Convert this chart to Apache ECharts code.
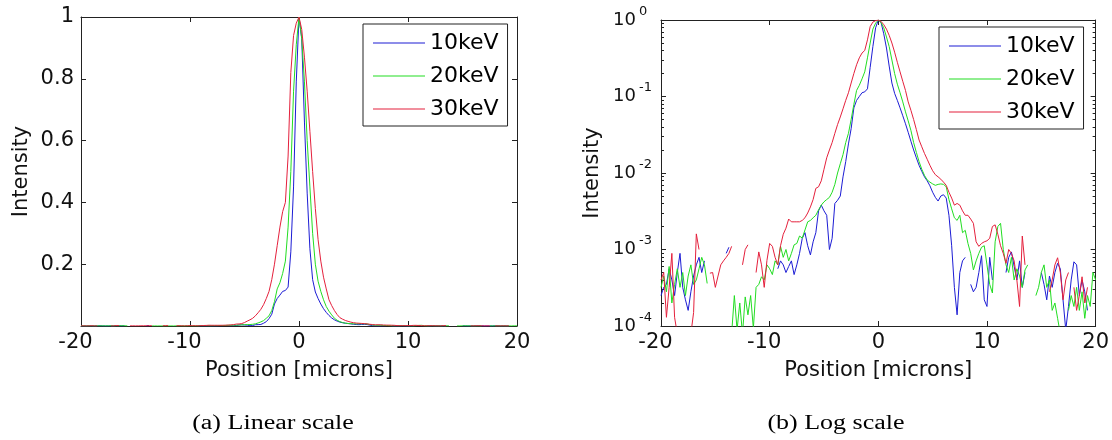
<!DOCTYPE html>
<html>
<head>
<meta charset="utf-8">
<script src="https://cdn.jsdelivr.net/npm/echarts@6/dist/echarts.min.js"></script>
<style>
  html, body { margin: 0; padding: 0; background: #fff; }
  #chart { width: 1112px; height: 440px; }
</style>
</head>
<body>
<div id="chart"></div>
<script>
// Sample positions along the beam profile (microns)
const positions = [
  -20, -19.75, -19.5, -19.25, -19, -18.75, -18.5, -18.25, -18, -17.75, -17.5, -17.25, -17, -16.75, -16.5, -16.25, -16, -15.75, -15.5, -15.25,
  -15, -14.75, -14.5, -14.25, -14, -13.75, -13.5, -13.25, -13, -12.75, -12.5, -12.25, -12, -11.75, -11.5, -11.25, -11, -10.75, -10.5, -10.25,
  -10, -9.75, -9.5, -9.25, -9, -8.75, -8.5, -8.25, -8, -7.75, -7.5, -7.25, -7, -6.75, -6.5, -6.25, -6, -5.75, -5.5, -5.25,
  -5, -4.75, -4.5, -4.25, -4, -3.75, -3.5, -3.25, -3, -2.75, -2.5, -2.25, -2, -1.75, -1.5, -1.25, -1, -0.75, -0.5, -0.25,
  0, 0.25, 0.5, 0.75, 1, 1.25, 1.5, 1.75, 2, 2.25, 2.5, 2.75, 3, 3.25, 3.5, 3.75, 4, 4.25, 4.5, 4.75,
  5, 5.25, 5.5, 5.75, 6, 6.25, 6.5, 6.75, 7, 7.25, 7.5, 7.75, 8, 8.25, 8.5, 8.75, 9, 9.25, 9.5, 9.75,
  10, 10.25, 10.5, 10.75, 11, 11.25, 11.5, 11.75, 12, 12.25, 12.5, 12.75, 13, 13.25, 13.5, 13.75, 14, 14.25, 14.5, 14.75,
  15, 15.25, 15.5, 15.75, 16, 16.25, 16.5, 16.75, 17, 17.25, 17.5, 17.75, 18, 18.25, 18.5, 18.75, 19, 19.25, 19.5, 19.75,
  20
];

// Normalised intensity, 10 keV (null = no positive reading)
const intensity10keV = [
  2.5e-4, 3.2e-4, 3.5e-4, 5.6e-4, 4.0e-4, 2.5e-4, 5.0e-4, 8.9e-4, 3.2e-4, 2.2e-4, 1.6e-4, 2.8e-4, 4.5e-4, 6.3e-4, 7.9e-4, 5.0e-4, 7.1e-4, null, null, null,
  null, null, null, null, 8.9e-4, 1.07e-3, null, null, null, null, null, null, null, null, null, null, null, null, null, null,
  null, null, null, 5.6e-4, 7.1e-4, 6.3e-4, 5.0e-4, 6.0e-4, 7.1e-4, 4.7e-4, 6.3e-4, 8.9e-4, 1.4e-3, 1.66e-3, 1.12e-3, 8.5e-4, 1.26e-3, 1.66e-3, 3.2e-3, 3.8e-3,
  3.2e-3, 2.8e-3, 1.0e-3, 1.4e-3, 4.0e-3, 4.4e-3, 5.0e-3, 8.9e-3, 1.41e-2, 2.4e-2, 3.8e-2, 7.1e-2, 8.9e-2, 0.100, 0.112, 0.115, 0.126, 0.24, 0.45, 0.79,
  1.0, 0.93, 0.66, 0.43, 0.25, 0.15, 0.11, 0.089, 0.071, 0.056, 0.044, 0.034, 0.026, 0.020, 0.0158, 0.0126, 0.0105, 8.9e-3, 7.9e-3, 6.8e-3,
  5.6e-3, 4.8e-3, 4.3e-3, 5.0e-3, 5.2e-3, 4.7e-3, 2.8e-3, 1.12e-3, 3.2e-4, 1.4e-4, 5.0e-4, 7.1e-4, 7.9e-4, null, 3.5e-4, 2.8e-4, 3.2e-4, 5.0e-4, 8.3e-4, 2.2e-4,
  1.8e-4, 7.9e-4, 4.0e-4, null, null, null, null, 5.0e-4, 7.9e-4, 9.3e-4, 6.0e-4, 4.0e-4, 7.1e-4, 3.2e-4, 5.0e-4, null, null, null, null, null,
  5.0e-4, 3.5e-4, 2.2e-4, 4.5e-4, 3.2e-4, 5.0e-4, 6.6e-4, 5.6e-4, 2.2e-4, 8.9e-5, 1.8e-4, 4.0e-4, 6.9e-4, 6.3e-4, 2.5e-4, 4.0e-4, 2.8e-4, 1.6e-4, null, null,
  null
];

// Normalised intensity, 20 keV
const intensity20keV = [
  3.2e-4, 4.5e-4, 2.8e-4, 6.0e-4, 2.0e-4, 3.5e-4, 5.6e-4, 3.2e-4, 5.0e-4, 2.5e-4, 4.5e-4, 6.3e-4, 3.5e-4, 4.0e-4, 5.6e-4, 7.9e-4, 6.3e-4, 3.6e-4, null, null,
  null, null, null, null, null, null, 7.9e-5, 2.5e-4, 8.9e-5, 2.0e-4, 7.9e-5, 2.4e-4, 1.4e-4, 2.5e-4, 9.3e-5, 3.2e-4, 3.5e-4, 4.4e-4, 4.0e-4, 6.3e-4,
  5.6e-4, 4.7e-4, 7.1e-4, 6.3e-4, 1.1e-3, 7.9e-4, 1.0e-3, 7.1e-4, 8.9e-4, 1.15e-3, 1.2e-3, 1.5e-3, 1.41e-3, 1.8e-3, 2.3e-3, 2.4e-3, 2.6e-3, 2.8e-3, 3.3e-3, 3.8e-3,
  4.2e-3, 4.5e-3, 4.8e-3, 5.6e-3, 7.1e-3, 1.0e-2, 1.32e-2, 1.74e-2, 2.5e-2, 3.3e-2, 5.0e-2, 7.9e-2, 0.12, 0.14, 0.17, 0.21, 0.32, 0.50, 0.76, 0.91,
  1.0, 0.93, 0.79, 0.60, 0.45, 0.30, 0.20, 0.145, 0.112, 0.085, 0.063, 0.048, 0.036, 0.025, 0.0186, 0.0141, 0.0112, 9.3e-3, 8.1e-3, 7.6e-3,
  7.2e-3, 6.9e-3, 7.1e-3, 7.2e-3, 7.1e-3, 6.6e-3, 4.5e-3, 3.4e-3, 2.6e-3, 2.4e-3, 2.8e-3, 1.66e-3, 1.78e-3, 1.2e-3, 8.9e-4, 5.4e-4, 7.1e-4, 8.9e-4, 1.07e-3, 1.12e-3,
  6.3e-4, 3.5e-4, 2.7e-4, 1.26e-3, 2.0e-3, 2.2e-3, 1.0e-3, 6.3e-4, 5.0e-4, 7.9e-4, 4.0e-4, 5.6e-4, 4.5e-4, 3.2e-4, 5.4e-4, 6.3e-4, null, null, 2.5e-4, 3.2e-4,
  5.0e-4, 6.3e-4, 3.2e-4, 4.0e-4, 1.6e-4, 2.0e-4, 1.26e-4, 7.9e-5, null, null, 1.6e-4, 2.5e-4, 1.8e-4, 3.2e-4, 1.6e-4, 2.8e-4, 1.26e-4, 2.5e-4, 1.8e-4, 5.0e-4,
  4.0e-4
];

// Normalised intensity, 30 keV
const intensity30keV = [
  4.0e-4, 5.0e-4, 1.3e-4, 3.2e-4, 8.9e-4, 1.3e-4, 7.9e-5, null, null, null, null, 7.9e-5, 1.5e-4, 1.6e-3, 1.0e-3, null, null, null, 4.9e-4, 5.0e-4,
  3.2e-4, 4.5e-4, 6.3e-4, 7.1e-4, 7.9e-4, 8.9e-4, 1.1e-3, null, null, null, 6.3e-4, 1.0e-3, 1.15e-3, null, null, 5.0e-4, 9.3e-4, 6.3e-4, 3.2e-4, 7.2e-4,
  1.2e-3, 1.1e-3, 7.9e-4, 6.3e-4, 1.12e-3, 1.58e-3, 1.9e-3, 2.5e-3, 2.3e-3, 2.3e-3, 2.3e-3, 2.3e-3, 2.4e-3, 2.6e-3, 3.0e-3, 3.6e-3, 4.5e-3, 6.3e-3, 6.6e-3, 7.9e-3,
  1.12e-2, 1.58e-2, 2.0e-2, 2.5e-2, 3.3e-2, 4.3e-2, 5.4e-2, 6.9e-2, 8.9e-2, 0.112, 0.15, 0.20, 0.26, 0.32, 0.37, 0.40, 0.55, 0.82, 0.94, 0.98,
  1.0, 0.96, 0.87, 0.76, 0.63, 0.50, 0.38, 0.28, 0.21, 0.158, 0.12, 0.085, 0.066, 0.050, 0.037, 0.027, 0.022, 0.018, 0.0151, 0.0126,
  1.07e-2, 9.5e-3, 8.9e-3, 8.3e-3, 7.6e-3, 6.9e-3, 5.6e-3, 4.7e-3, 3.8e-3, 4.0e-3, 3.8e-3, 3.2e-3, 2.8e-3, 2.8e-3, 2.5e-3, 2.2e-3, 1.26e-3, 1.1e-3, 1.2e-3, 1.26e-3,
  1.3e-3, 1.4e-3, 2.0e-3, 2.1e-3, 1.58e-3, 1.12e-3, 8.9e-4, 6.6e-4, 1.0e-3, 8.9e-4, 7.1e-4, 4.0e-4, 1.8e-4, 1.5e-3, 6.3e-4, null, null, null, null, null,
  null, null, null, 2.8e-4, 4.0e-4, 6.3e-4, 7.8e-4, 5.0e-4, 2.2e-4, 4.0e-4, 5.0e-4, null, 3.2e-4, 1.6e-4, 2.5e-4, 4.4e-4, 2.0e-4, 3.2e-4, null, null,
  null
];

const seriesNames = ['10keV', '20keV', '30keV'];
const seriesValues = [intensity10keV, intensity20keV, intensity30keV];
const seriesColors = ['#1c1cd4', '#22dd22', '#e4203c'];

// Axis ticks
const xTickInterval = 10;
const linearTickInterval = 0.2;
const logMajorTicks = [1e-4, 1e-3, 1e-2, 1e-1, 1];
const logMinorTicks = [];
for (let d = -4; d < 0; d++) {
  for (let m = 2; m <= 9; m++) logMinorTicks.push(m * Math.pow(10, d));
}

const FONT = 'DejaVu Sans';
const INK = '#111';
const AXIS = '#222';

const axisLine = { show: true, onZero: false, lineStyle: { color: AXIS, width: 1 } };
const tickIn = { show: true, inside: true, length: 5, lineStyle: { color: AXIS, width: 1 } };
const nameStyle = { fontSize: 21, fontFamily: FONT, color: INK };

function pairs(vals) {
  return positions.map((x, i) => [x, vals[i] == null ? '-' : vals[i]]);
}

function xLabel(v) {
  return v < 0 ? '{n|' + v + '}' : '{p|' + v + '}';
}
const xRich = {
  n: { fontSize: 21, fontFamily: FONT, color: INK, padding: [0, 11, 0, 0] },
  p: { fontSize: 21, fontFamily: FONT, color: INK }
};

function xAxesFor(grid) {
  return [
    {
      gridIndex: grid, type: 'value', position: 'bottom',
      min: -20, max: 20, interval: xTickInterval,
      axisLine, axisTick: tickIn, splitLine: { show: false },
      axisLabel: { margin: 6, formatter: xLabel, rich: xRich },
      name: 'Position [microns]', nameLocation: 'middle', nameGap: 34,
      nameTextStyle: nameStyle
    },
    {
      gridIndex: grid, type: 'value', position: 'top',
      min: -20, max: 20, interval: xTickInterval,
      axisLine, axisTick: tickIn, splitLine: { show: false },
      axisLabel: { show: false }
    }
  ];
}

const logAxisBase = { gridIndex: 1, type: 'log', logBase: 10, min: 1e-4, max: 1, splitLine: { show: false } };

function legendAt(left, top) {
  return {
    data: seriesNames, orient: 'vertical', left, top,
    icon: 'rect', itemWidth: 52, itemHeight: 1, itemGap: 11, padding: [8, 9, 6, 10],
    borderColor: AXIS, borderWidth: 1, backgroundColor: '#fff',
    selectedMode: false,
    textStyle: { fontSize: 22, fontFamily: FONT, color: '#000' }
  };
}

const option = {
  animation: false,
  backgroundColor: '#fff',
  grid: [
    { left: 81, top: 17, width: 436, height: 309, containLabel: false },
    { left: 661, top: 20, width: 435, height: 306, containLabel: false }
  ],
  xAxis: [...xAxesFor(0), ...xAxesFor(1)],
  yAxis: [
    {
      gridIndex: 0, type: 'value', position: 'left',
      min: 0, max: 1, interval: linearTickInterval,
      axisLine, axisTick: tickIn, splitLine: { show: false },
      axisLabel: {
        margin: 7, fontSize: 21, fontFamily: FONT, color: INK,
        formatter: v => (v === 0 ? '' : String(+v.toFixed(1)))
      },
      name: 'Intensity', nameLocation: 'middle', nameGap: 49, nameTextStyle: nameStyle
    },
    {
      gridIndex: 0, type: 'value', position: 'right',
      min: 0, max: 1, interval: linearTickInterval,
      axisLine, axisTick: tickIn, splitLine: { show: false },
      axisLabel: { show: false }
    },
    // log axis: decade ticks with the base "10" of each label
    {
      ...logAxisBase, position: 'left',
      axisLine,
      axisTick: { ...tickIn, customValues: logMajorTicks },
      axisLabel: {
        customValues: logMajorTicks,
        align: 'left', margin: 48, padding: [3, 0, 0, 0],
        fontSize: 18, fontFamily: FONT, color: INK,
        formatter: () => '10'
      },
      name: 'Intensity', nameLocation: 'middle', nameGap: 58, nameTextStyle: nameStyle
    },
    {
      ...logAxisBase, position: 'right',
      axisLine,
      axisTick: { ...tickIn, customValues: logMajorTicks },
      axisLabel: { show: false }
    },
    // log axis: minor ticks plus the raised exponent of each decade label
    {
      ...logAxisBase, position: 'left',
      axisLine: { show: false, onZero: false },
      axisTick: { show: true, inside: true, length: 3, lineStyle: { color: AXIS }, customValues: logMinorTicks },
      axisLabel: {
        customValues: logMajorTicks,
        verticalAlign: 'bottom', align: 'left', margin: 22, padding: [0, 0, 2, 0],
        fontSize: 13, fontFamily: FONT, color: INK,
        formatter: v => String(Math.round(Math.log10(v)))
      }
    },
    {
      ...logAxisBase, position: 'right',
      axisLine: { show: false, onZero: false },
      axisTick: { show: true, inside: true, length: 3, lineStyle: { color: AXIS }, customValues: logMinorTicks },
      axisLabel: { show: false }
    }
  ],
  legend: [legendAt(363, 24), legendAt(939, 27)],
  graphic: [
    {
      type: 'text', x: 273, y: 424, scaleX: 1.3,
      style: { text: '(a) Linear scale', font: '20px "Liberation Serif"', fill: '#000', align: 'center', verticalAlign: 'middle' }
    },
    {
      type: 'text', x: 836, y: 424, scaleX: 1.3,
      style: { text: '(b) Log scale', font: '20px "Liberation Serif"', fill: '#000', align: 'center', verticalAlign: 'middle' }
    }
  ],
  series: [
    ...seriesNames.map((n, k) => ({
      type: 'line', name: n, xAxisIndex: 0, yAxisIndex: 0,
      data: pairs(seriesValues[k]), symbol: 'none', connectNulls: false, clip: true,
      lineStyle: { width: 1, color: seriesColors[k] }, itemStyle: { color: seriesColors[k] }
    })),
    ...seriesNames.map((n, k) => ({
      type: 'line', name: n, xAxisIndex: 2, yAxisIndex: 2,
      data: pairs(seriesValues[k]), symbol: 'none', connectNulls: false, clip: true,
      lineStyle: { width: 1, color: seriesColors[k] }, itemStyle: { color: seriesColors[k] }
    }))
  ]
};

const chart = echarts.init(document.getElementById('chart'), null, { renderer: 'canvas' });
chart.setOption(option);
</script>
</body>
</html>
